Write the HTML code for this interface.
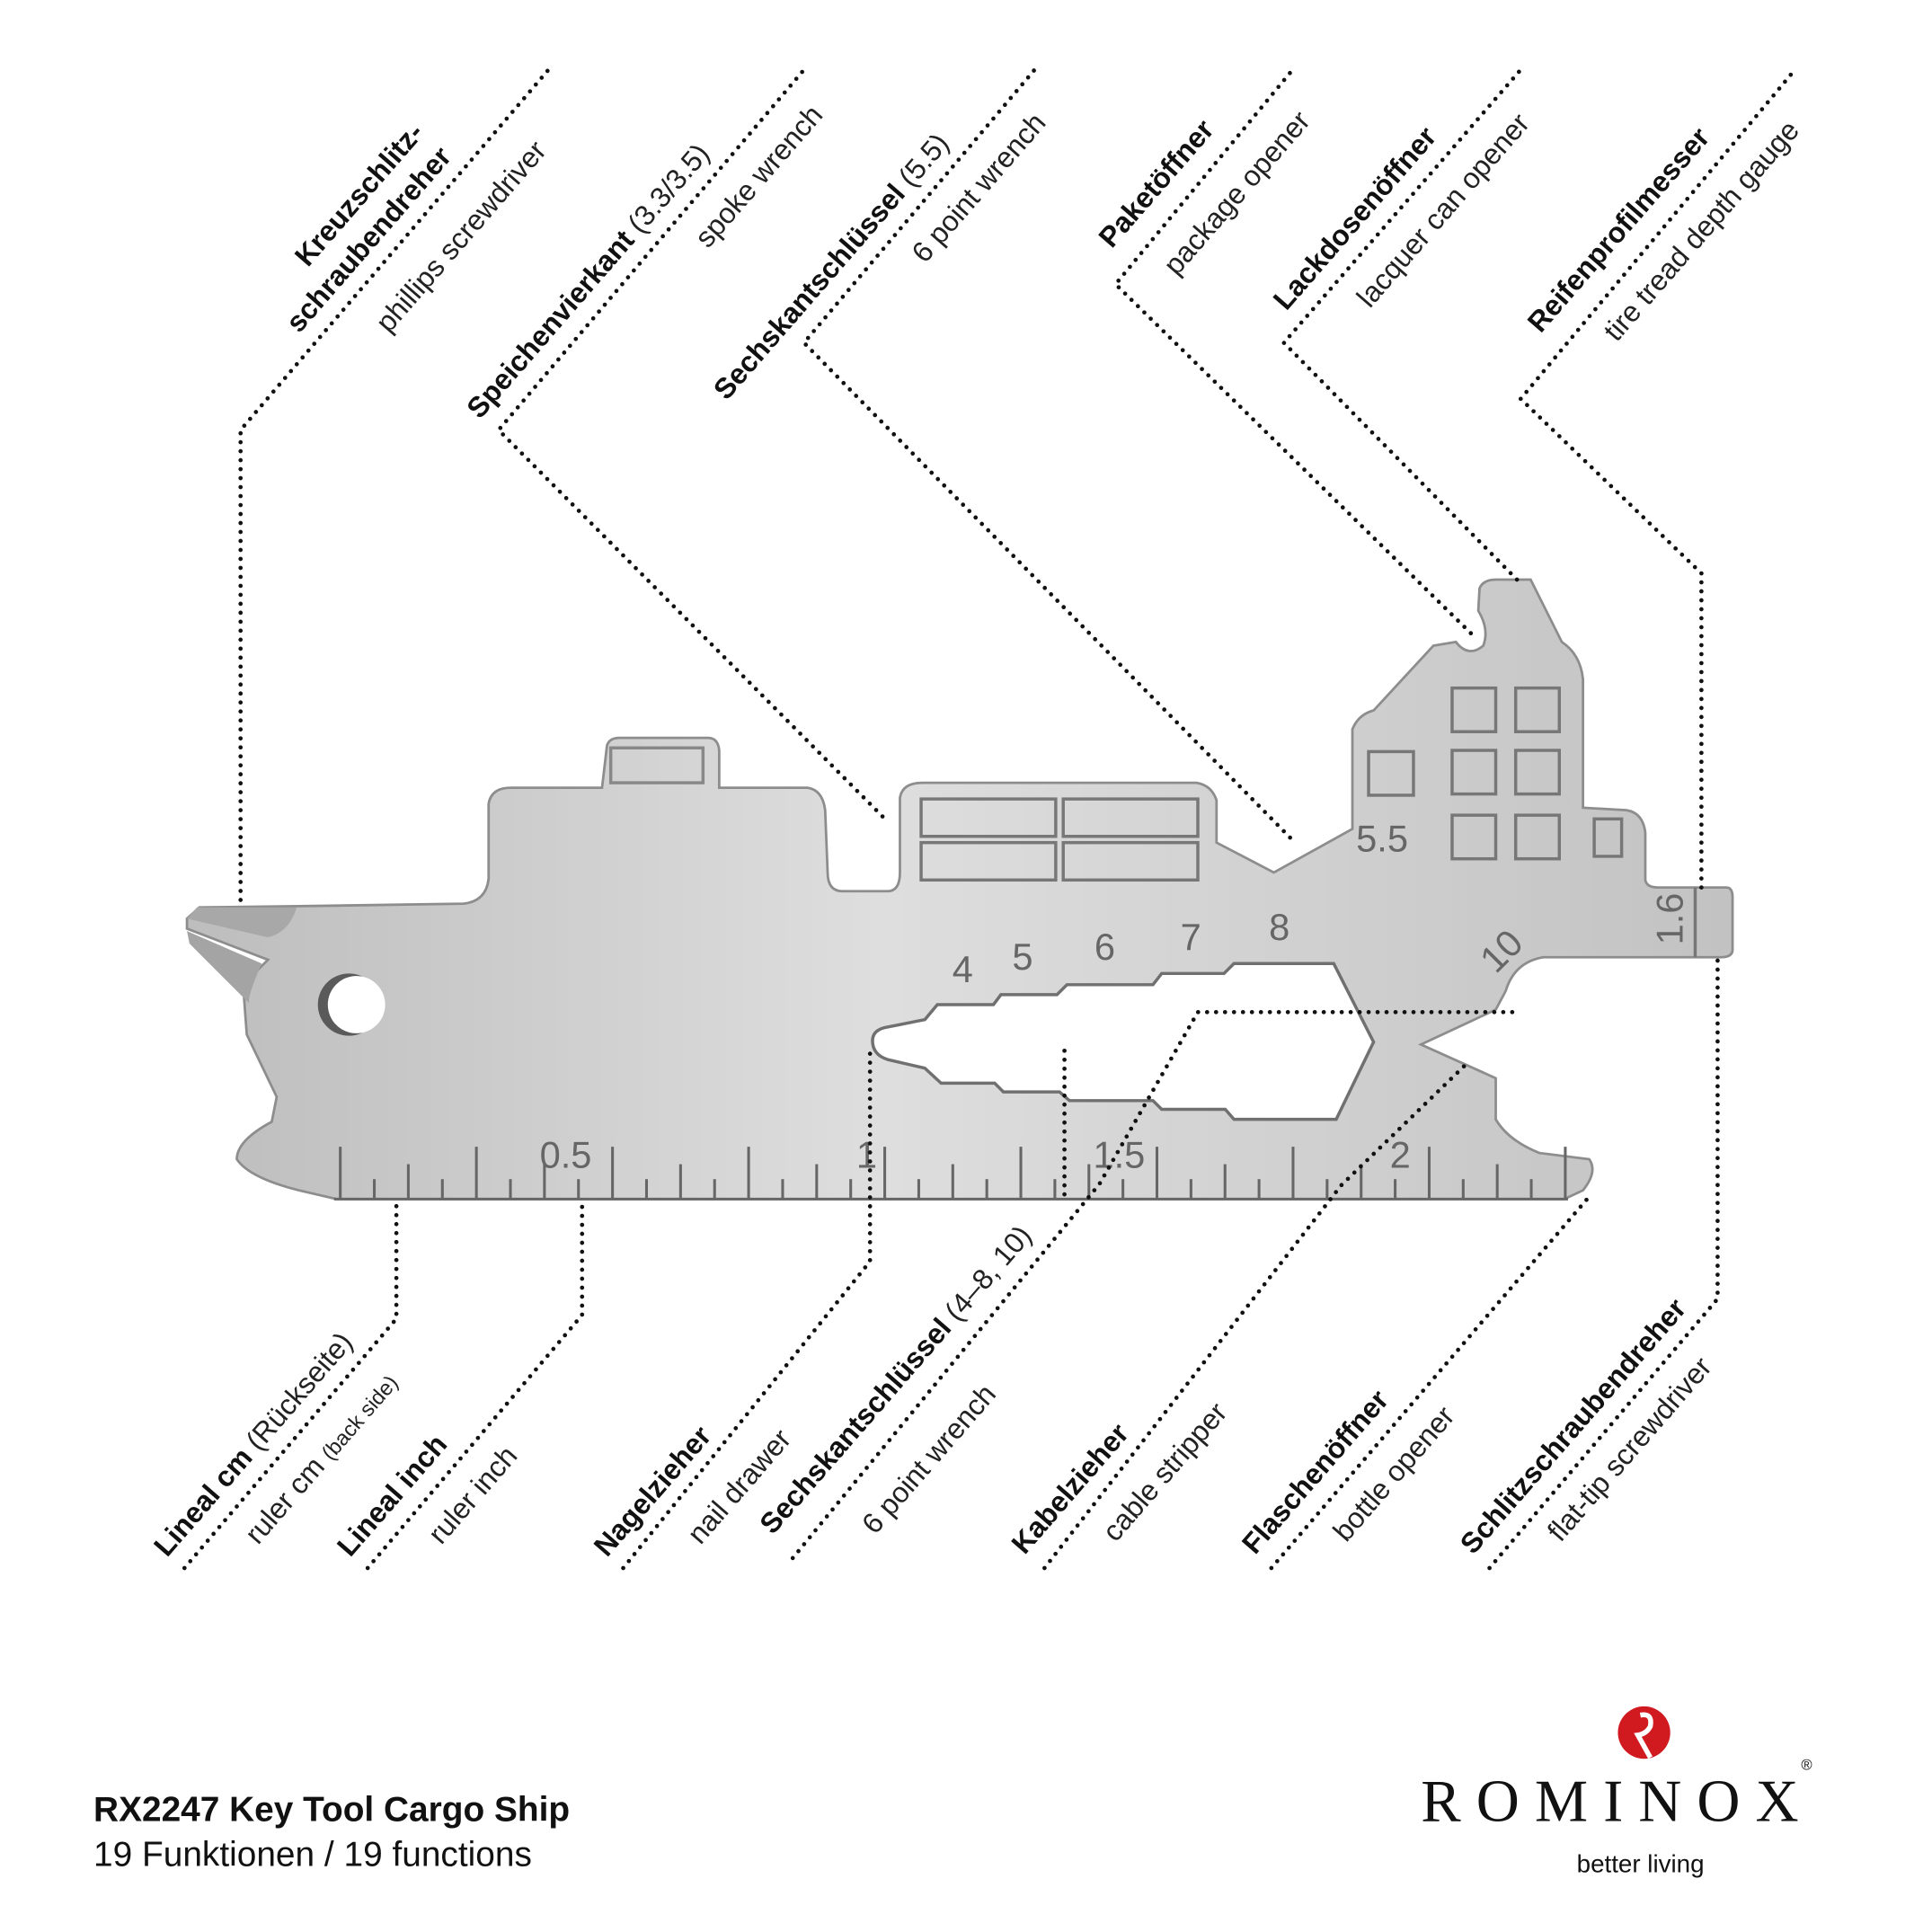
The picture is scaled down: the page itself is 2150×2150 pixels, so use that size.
<!DOCTYPE html>
<html><head><meta charset="utf-8">
<style>
html,body{margin:0;padding:0;background:#fff;}
svg{display:block;}
.b{font-family:"Liberation Sans",sans-serif;font-weight:bold;font-size:23px;fill:#111;}
.l{font-family:"Liberation Sans",sans-serif;font-size:23px;font-weight:normal;fill:#222;}
.n{font-family:"Liberation Sans",sans-serif;font-size:30px;fill:#666;}
.d{fill:none;stroke:#111;stroke-width:3.4;stroke-linecap:round;stroke-dasharray:0 7.2;}
</style></head>
<body>
<svg width="2150" height="2150" viewBox="0 0 1550 1550" xmlns="http://www.w3.org/2000/svg">
<defs>
<linearGradient id="g" x1="0" y1="0" x2="1" y2="0">
<stop offset="0" stop-color="#bdbdbd"/><stop offset="0.45" stop-color="#dedede"/><stop offset="1" stop-color="#c2c2c2"/>
</linearGradient>
</defs>
<rect width="1550" height="1550" fill="#fff"/>

<path d="M150,737 L160,728 L240,727 L372,725 Q390,723 392,705 L392,645 Q394,632 410,632 L483,632 L487,598 Q489,592 497,592 L568,592 Q576,592 577,602 L577,632 L648,632 Q660,634 662,650 L664,700 Q664,715 676,715 L712,715 Q722,715 722,700 L722,640 Q724,628 740,628 L960,628 Q972,630 976,642 L976,676 L1022,700 L1085,665 L1085,585 Q1090,573 1102,570 L1150,518 L1168,515 Q1178,528 1190,518 Q1195,505 1186,490 L1187,472 Q1190,465 1200,465 L1228,465 L1253,515 Q1268,525 1270,545 L1270,648 L1305,650 Q1318,652 1320,668 L1320,706 Q1321,712 1330,712 L1385,712 Q1390,712 1390,720 L1390,762 Q1390,768 1380,768 L1238,768 Q1215,772 1208,795 L1200,810 L1140,838 L1200,865 L1200,898 Q1210,915 1235,925 L1275,930 Q1282,940 1270,955 L1255,962 L270,962 L240,955 Q200,945 190,930 Q190,915 218,900 L222,880 L198,830 L195,790 L215,770 L150,745 Z" fill="url(#g)" stroke="#8d8d8d" stroke-width="2"/>
<path d="M150,737 L158,728 L238,728 Q232,748 215,752 Z" fill="#a8a8a8"/>
<path d="M150,747 L210,773 Q198,800 200,805 L152,757 Z" fill="#a4a4a4"/>
<rect x="490" y="600" width="74" height="28" fill="none" stroke="#888" stroke-width="2.5"/>
<g fill="none" stroke="#777" stroke-width="2.5">
<rect x="739" y="641" width="108" height="30"/><rect x="853" y="641" width="108" height="30"/>
<rect x="739" y="676" width="108" height="30"/><rect x="853" y="676" width="108" height="30"/>
<rect x="1165" y="552" width="35" height="35"/><rect x="1216" y="552" width="35" height="35"/>
<rect x="1165" y="602" width="35" height="35"/><rect x="1216" y="602" width="35" height="35"/>
<rect x="1165" y="654" width="35" height="35"/><rect x="1216" y="654" width="35" height="35"/>
<rect x="1098" y="603" width="36" height="35"/><rect x="1279" y="657" width="22" height="30"/>
<line x1="1360" y1="712" x2="1360" y2="768"/>
</g>
<circle cx="280" cy="806" r="25" fill="#5a5a5a"/>
<circle cx="286" cy="806" r="23" fill="#fff"/>
<path d="M700,835 Q700,826 712,824 L742,818 L752,806 L797,806 L803,798 L848,798 L856,790 L925,790 L932,781 L982,781 L990,773 L1070,773 L1102,836 L1072,898 L990,898 L983,890 L932,890 L925,883 L858,883 L850,876 L805,876 L798,869 L755,869 L742,857 L712,850 Q700,846 700,835 Z" fill="#fff" stroke="#707070" stroke-width="2.5"/>
<text class="n" x="764" y="788">4</text>
<text class="n" x="812" y="778">5</text>
<text class="n" x="878" y="770">6</text>
<text class="n" x="947" y="762">7</text>
<text class="n" x="1018" y="754">8</text>
<text class="n" x="1088" y="683">5.5</text>
<text class="n" x="0" y="0" transform="translate(1200,782) rotate(-45)">10</text>
<text class="n" x="0" y="0" font-size="22" transform="translate(1350,758) rotate(-90)">1.6</text>
<g stroke="#666" stroke-width="2.2" id="ruler"></g>
<g class="n" font-size="24">
<text x="433" y="937">0.5</text><text x="687" y="937">1</text><text x="877" y="937">1.5</text><text x="1115" y="937">2</text>
</g>

<polyline class="d" points="193,722 193,345 440,56"/>
<polyline class="d" points="708,655 400,345 645,56"/>
<polyline class="d" points="1035,672 645,275 830,56"/>
<polyline class="d" points="1180,508 895,228 1037,56"/>
<polyline class="d" points="1217,465 1030,275 1220,56"/>
<polyline class="d" points="1365,712 1365,460 1220,320 1440,56"/>

<polyline class="d" points="148,1258 318,1058 318,966"/>
<polyline class="d" points="295,1258 467,1055 467,966"/>
<polyline class="d" points="500,1258 698,1012 698,843"/>
<polyline class="d" points="636,1250 882,950 961,812 1218,812"/>
<polyline class="d" points="854,843 854,962"/>
<polyline class="d" points="838,1258 1076,951 1175,855"/>
<polyline class="d" points="1020,1258 1275,960"/>
<polyline class="d" points="1195,1258 1378,1042 1378,770"/>

<g transform="translate(247,215) rotate(-49)"><text class="b">Kreuzschlitz-</text></g>
<g transform="translate(240,268) rotate(-49)"><text class="b">schraubendreher</text></g>
<g transform="translate(312,268) rotate(-49)"><text class="l">phillips screwdriver</text></g>
<g transform="translate(385,337) rotate(-49)"><text class="b">Speichenvierkant <tspan class="l">(3.3/3.5)</tspan></text></g>
<g transform="translate(568,200) rotate(-49)"><text class="l">spoke wrench</text></g>
<g transform="translate(583,322) rotate(-49)"><text class="b">Sechskantschlüssel <tspan class="l">(5.5)</tspan></text></g>
<g transform="translate(742,212) rotate(-49)"><text class="l">6 point wrench</text></g>
<g transform="translate(892,200) rotate(-49)"><text class="b">Paketöffner</text></g>
<g transform="translate(944,222) rotate(-49)"><text class="l">package opener</text></g>
<g transform="translate(1032,250) rotate(-49)"><text class="b">Lackdosenöffner</text></g>
<g transform="translate(1099,248) rotate(-49)"><text class="l">lacquer can opener</text></g>
<g transform="translate(1236,268) rotate(-49)"><text class="b">Reifenprofilmesser</text></g>
<g transform="translate(1297,275) rotate(-49)"><text class="l">tire tread depth gauge</text></g>

<g transform="translate(134,1250) rotate(-49)"><text class="b">Lineal cm <tspan class="l">(Rückseite)</tspan></text></g>
<g transform="translate(207,1240) rotate(-49)"><text class="l">ruler cm <tspan font-size="17">(back side)</tspan></text></g>
<g transform="translate(281,1250) rotate(-49)"><text class="b">Lineal inch</text></g>
<g transform="translate(354,1240) rotate(-49)"><text class="l">ruler inch</text></g>
<g transform="translate(487,1250) rotate(-49)"><text class="b">Nagelzieher</text></g>
<g transform="translate(562,1240) rotate(-49)"><text class="l">nail drawer</text></g>
<g transform="translate(620,1232) rotate(-49)"><text class="b">Sechskantschlüssel <tspan class="l">(4–8, 10)</tspan></text></g>
<g transform="translate(702,1232) rotate(-49)"><text class="l">6 point wrench</text></g>
<g transform="translate(822,1248) rotate(-49)"><text class="b">Kabelzieher</text></g>
<g transform="translate(895,1238) rotate(-49)"><text class="l">cable stripper</text></g>
<g transform="translate(1007,1248) rotate(-49)"><text class="b">Flaschenöffner</text></g>
<g transform="translate(1080,1238) rotate(-49)"><text class="l">bottle opener</text></g>
<g transform="translate(1182,1248) rotate(-49)"><text class="b">Schlitzschraubendreher</text></g>
<g transform="translate(1252,1238) rotate(-49)"><text class="l">flat-tip screwdriver</text></g>

<text x="75" y="1461" font-family="Liberation Sans,sans-serif" font-weight="bold" font-size="28" fill="#111">RX2247 Key Tool Cargo Ship</text>
<text x="75" y="1497" font-family="Liberation Sans,sans-serif" font-size="28" fill="#111">19 Funktionen / 19 functions</text>
<circle cx="1319" cy="1390" r="21" fill="#d11a1f"/>
<path d="M1316,1376 Q1326,1374 1324,1385 Q1321,1391 1314,1392 L1324,1410" fill="none" stroke="#fff" stroke-width="4"/>
<text x="1140" y="1461" font-family="Liberation Serif,serif" font-size="48" fill="#111" textLength="303" lengthAdjust="spacing">ROMINOX</text>
<text x="1445" y="1420" font-family="Liberation Sans,sans-serif" font-size="12" fill="#111">®</text>
<text x="1265" y="1502" font-family="Liberation Sans,sans-serif" font-size="20" fill="#111">better living</text>

<script>
(function(){
var g=document.getElementById('ruler');var ns='http://www.w3.org/2000/svg';
var base=962;var l=document.createElementNS(ns,'line');
l.setAttribute('x1',268);l.setAttribute('x2',1258);l.setAttribute('y1',base);l.setAttribute('y2',base);g.appendChild(l);
for(var i=0;i<37;i++){var x=273+i*27.3;var h=(i%4==0)?42:(i%2==0?28:16);
var t=document.createElementNS(ns,'line');t.setAttribute('x1',x);t.setAttribute('x2',x);t.setAttribute('y1',base-h);t.setAttribute('y2',base);g.appendChild(t);}
})();
</script>
</svg>
</body></html>
